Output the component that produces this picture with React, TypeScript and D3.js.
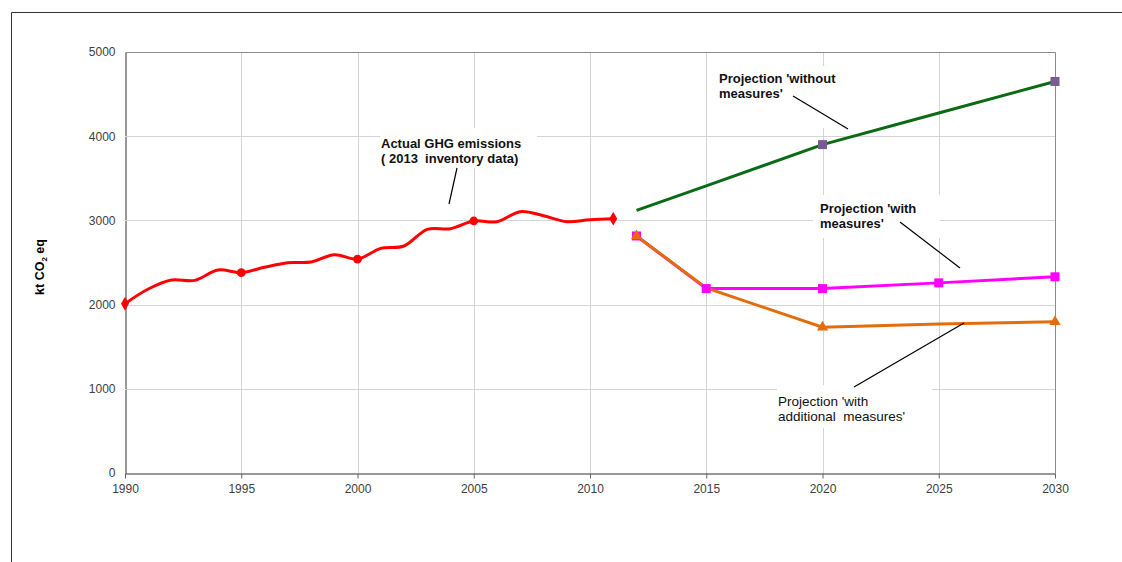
import { useEffect, useRef } from 'react'
import * as d3 from 'd3'

// Actual GHG emissions (2013 inventory), kt CO2 eq
const actualYears = [1990, 1991, 1992, 1993, 1994, 1995, 1996, 1997, 1998, 1999, 2000, 2001, 2002, 2003, 2004, 2005, 2006, 2007, 2008, 2009, 2010, 2011]
const actualValues = [2010, 2185, 2292, 2288, 2411, 2379, 2443, 2498, 2505, 2593, 2540, 2668, 2696, 2894, 2902, 2993, 2985, 3104, 3056, 2985, 3009, 3021]
const actualMarkerYears = [1990, 1995, 2000, 2005, 2011]

const projYears = [2012, 2015, 2020, 2025, 2030]
const withoutMeasures = [3120, 3410, 3900, 4275, 4650]
const withoutMarkerYears = [2020, 2030]
const withMeasures = [2815, 2190, 2190, 2258, 2330]
const withMarkerYears = [2012, 2015, 2020, 2025, 2030]
const additionalMeasures = [2815, 2197, 1732, 1770, 1795]
const additionalMarkerYears = [2012, 2020, 2030]

const xTicks = [1990, 1995, 2000, 2005, 2010, 2015, 2020, 2025, 2030]
const yTicks = [0, 1000, 2000, 3000, 4000, 5000]

const FONT = '"Liberation Sans", Arial, sans-serif'

export default function App() {
  const svgRef = useRef<SVGSVGElement>(null)

  useEffect(() => {
    if (!svgRef.current) return
    const svg = d3.select(svgRef.current)
    svg.selectAll('*').remove()

    const W = 1122
    const H = 562
    const margin = { top: 52, right: 67, bottom: 89, left: 125 }
    const plotW = W - margin.left - margin.right
    const plotH = H - margin.top - margin.bottom

    svg.attr('width', W).attr('height', H).style('font-family', FONT)

    svg.append('rect').attr('width', W).attr('height', H).attr('fill', '#fff')

    // outer frame (top + left only visible)
    svg.append('line').attr('x1', 11.5).attr('x2', W).attr('y1', 12.5).attr('y2', 12.5).attr('stroke', '#333')
    svg.append('line').attr('x1', 11.5).attr('x2', 11.5).attr('y1', 12.5).attr('y2', H).attr('stroke', '#333')

    const x = d3.scaleLinear().domain([1990, 2030]).range([0, plotW])
    const y = d3.scaleLinear().domain([0, 5000]).range([plotH, 0])

    const g = svg.append('g').attr('transform', `translate(${margin.left},${margin.top})`)
    const gridLayer = svg.append('g').attr('transform', `translate(${margin.left},${margin.top})`)
    const boxLayer = svg.append('g')
    const plotLayer = svg.append('g').attr('transform', `translate(${margin.left},${margin.top})`)
    const noteLayer = svg.append('g')

    // gridlines
    gridLayer.append('g')
      .selectAll('line')
      .data(yTicks.filter(t => t > 0 && t < 5000))
      .join('line')
      .attr('x1', 0)
      .attr('x2', plotW)
      .attr('y1', d => Math.round(y(d)) + 0.5)
      .attr('y2', d => Math.round(y(d)) + 0.5)
      .attr('stroke', '#d4d4d4')
    gridLayer.append('g')
      .selectAll('line')
      .data(xTicks.filter(t => t > 1990 && t < 2030))
      .join('line')
      .attr('x1', d => Math.round(x(d)) + 0.5)
      .attr('x2', d => Math.round(x(d)) + 0.5)
      .attr('y1', 0)
      .attr('y2', plotH)
      .attr('stroke', '#d4d4d4')

    // plot border top/right
    gridLayer.append('path')
      .attr('d', `M0.5,0.5H${plotW + 0.5}V${plotH}`)
      .attr('fill', 'none')
      .attr('stroke', '#8c8c8c')

    // axes
    const xAxis = g.append('g')
      .attr('transform', `translate(0,${plotH + 0.5})`)
      .call(d3.axisBottom(x).tickValues(xTicks).tickFormat(d3.format('d')).tickSize(5).tickSizeOuter(0))
    xAxis.select('.domain').attr('stroke', '#333')
    xAxis.selectAll('.tick line').attr('stroke', '#666')
    xAxis.selectAll('text').attr('fill', '#404040').style('font-size', '12px').style('font-family', FONT).attr('dy', '0.95em')

    const yAxis = g.append('g')
      .attr('transform', 'translate(0.5,0)')
      .call(d3.axisLeft(y).tickValues(yTicks).tickFormat(d3.format('d')).tickSize(0).tickPadding(10).tickSizeOuter(0))
    yAxis.select('.domain').attr('stroke', '#333')
    yAxis.selectAll('text').attr('fill', '#404040').style('font-size', '12px').style('font-family', FONT)

    // annotation boxes (white, hide gridlines but sit under the lines)
    const boxes = [
      [380, 128, 157, 40],
      [714, 66, 180, 62],
      [813, 195, 127, 43],
      [777, 385, 155, 43],
    ]
    boxes.forEach(([bx, by, bw, bh]) => {
      boxLayer.append('rect').attr('x', bx).attr('y', by).attr('width', bw).attr('height', bh).attr('fill', '#fff')
    })

    // actual emissions line
    const actual = actualYears.map((yr, i) => ({ yr, v: actualValues[i] }))
    plotLayer.append('path')
      .datum(actual)
      .attr('fill', 'none')
      .attr('stroke', '#ff0000')
      .attr('stroke-width', 3)
      .attr('d', d3.line<{ yr: number; v: number }>().x(d => x(d.yr)).y(d => y(d.v)).curve(d3.curveCatmullRom.alpha(0.5)))

    actual.filter(d => actualMarkerYears.includes(d.yr)).forEach(d => {
      const ends = d.yr === 1990 || d.yr === 2011
      plotLayer.append('path')
        .attr('transform', `translate(${x(d.yr)},${y(d.v)})`)
        .attr('d', d3.symbol().type(ends ? d3.symbolDiamond : d3.symbolCircle).size(ends ? 55 : 60)())
        .attr('fill', '#ff0000')
    })

    const projLine = d3.line<{ yr: number; v: number }>().x(d => x(d.yr)).y(d => y(d.v))

    const withoutS = { values: withoutMeasures, color: '#0b6a14', markers: withoutMarkerYears, markerColor: '#7a5c95', shape: 'square' }
    const withS = { values: withMeasures, color: '#ff00ff', markers: withMarkerYears, markerColor: '#ff00ff', shape: 'square' }
    const addS = { values: additionalMeasures, color: '#e46c0a', markers: additionalMarkerYears, markerColor: '#e46c0a', shape: 'triangle' }

    // lines: magenta under orange
    ;[withoutS, withS, addS].forEach(s => {
      const pts = projYears.map((yr, i) => ({ yr, v: s.values[i] }))
      plotLayer.append('path')
        .datum(pts)
        .attr('fill', 'none')
        .attr('stroke', s.color)
        .attr('stroke-width', 3)
        .attr('d', projLine)
    })

    ;[withoutS, withS, addS].forEach(s => {
      projYears.forEach((yr, i) => {
        if (!s.markers.includes(yr)) return
        const px = x(yr)
        const py = y(s.values[i])
        if (s.shape === 'square') {
          plotLayer.append('rect')
            .attr('x', px - 4.5)
            .attr('y', py - 4.5)
            .attr('width', 9)
            .attr('height', 9)
            .attr('fill', s.markerColor)
        } else {
          plotLayer.append('path')
            .attr('transform', `translate(${px},${py})`)
            .attr('d', d3.symbol().type(d3.symbolTriangle).size(55)())
            .attr('fill', s.markerColor)
        }
      })
    })

    // annotations
    const labels = [
      { x: 381, y: 148, lines: ['Actual GHG emissions', '( 2013  inventory data)'], bold: true, size: 13 },
      { x: 719, y: 83, lines: ["Projection 'without", "measures'"], bold: true, size: 13 },
      { x: 820, y: 213, lines: ["Projection 'with", "measures'"], bold: true, size: 13 },
      { x: 778, y: 406, lines: ["Projection 'with", "additional  measures'"], bold: false, size: 13.5 },
    ]
    labels.forEach(l => {
      const t = noteLayer.append('text')
        .attr('x', l.x)
        .attr('y', l.y)
        .attr('fill', '#111')
        .style('font-size', `${l.size}px`)
        .style('font-weight', l.bold ? 'bold' : 'normal')
        .style('white-space', 'pre')
      l.lines.forEach((ln, i) => {
        t.append('tspan').attr('x', l.x).attr('dy', i === 0 ? 0 : 14.5).text(ln)
      })
    })

    const pointers = [
      [457, 168, 449, 204],
      [793, 96, 848, 129],
      [900, 222, 960, 268],
      [854, 387, 964, 323],
    ]
    pointers.forEach(([x1, y1, x2, y2]) => {
      noteLayer.append('line').attr('x1', x1).attr('y1', y1).attr('x2', x2).attr('y2', y2).attr('stroke', '#000').attr('stroke-width', 1.2)
    })

    // y axis label
    const yl = noteLayer.append('text')
      .attr('transform', 'translate(44,267) rotate(-90)')
      .attr('text-anchor', 'middle')
      .attr('fill', '#000')
      .style('font-size', '12.5px')
      .style('font-weight', 'bold')
    yl.append('tspan').text('kt CO')
    yl.append('tspan').attr('dy', 3).style('font-size', '8px').text('2')
    yl.append('tspan').attr('dy', -3).text(' eq')
  }, [])

  return (
    <div style={{ position: 'absolute', left: 0, top: 0 }}>
      <svg ref={svgRef} />
    </div>
  )
}
